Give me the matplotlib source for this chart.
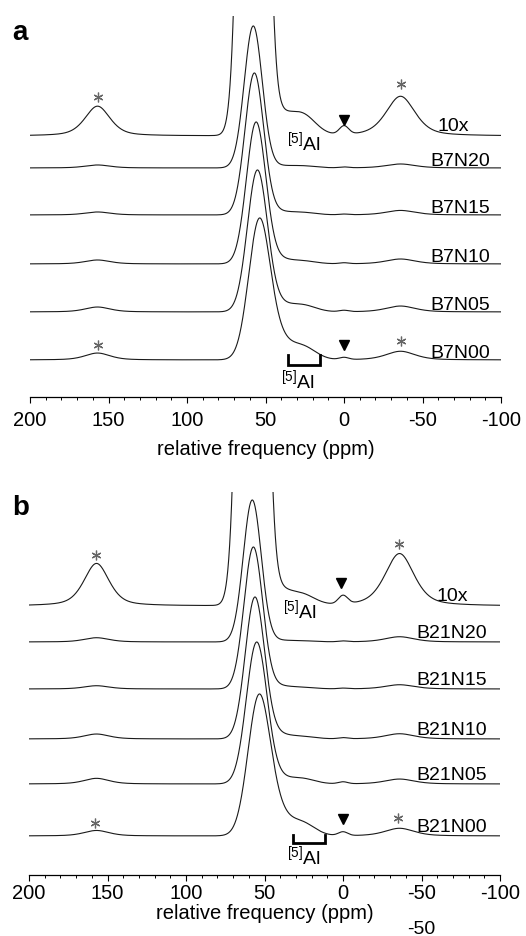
import numpy as np
import matplotlib
import matplotlib.pyplot as plt
from matplotlib.ticker import MultipleLocator

matplotlib.use('agg')

plt.rcParams['font.family'] = ['Liberation Sans', 'DejaVu Sans']
plt.rcParams['mathtext.fontset'] = 'custom'
plt.rcParams['mathtext.rm'] = 'Liberation Sans'
plt.rcParams['mathtext.it'] = 'Liberation Sans:italic'
plt.rcParams['axes.unicode_minus'] = False

# --- spectra (intensities relative to the main peak) ---
b7_names = ['B7N20', 'B7N15', 'B7N10', 'B7N05', 'B7N00']
b7_center = [57.8, 57.1, 56.0, 55.2, 54.0]      # ppm, main [4]Al peak
b7_fwhm = [13.5, 14.0, 14.5, 15.0, 16.0]
b7_tail = [0.012, 0.02, 0.03, 0.045, 0.12]     # low-frequency tail (~42 ppm)
b7_al5 = [0.015, 0.018, 0.022, 0.05, 0.10]     # [5]Al (~27 ppm)
b7_al6 = [0.006, 0.005, 0.007, 0.010, 0.016]   # 0 ppm
b7_ssb_l = [0.021, 0.021, 0.028, 0.035, 0.05]  # sideband ~157 ppm
b7_ssb_r = [0.028, 0.032, 0.035, 0.042, 0.063] # sideband ~-36 ppm

b21_names = ['B21N20', 'B21N15', 'B21N10', 'B21N05', 'B21N00']
b21_center = [57.8, 57.1, 56.1, 55.0, 53.6]
b21_fwhm = [13.5, 14.0, 14.5, 15.5, 16.5]
b21_tail = [0.01, 0.02, 0.03, 0.035, 0.13]
b21_al5 = [0.008, 0.012, 0.018, 0.04, 0.10]
b21_al6 = [0.006, 0.005, 0.008, 0.014, 0.028]
b21_ssb_l = [0.03, 0.023, 0.035, 0.04, 0.04]
b21_ssb_r = [0.037, 0.03, 0.037, 0.035, 0.056]

# shared component positions / widths (ppm)
tail_pos, tail_w = 42.0, 16.5
al5_pos, al5_w = 27.0, 20.0
al6_pos, al6_w = 0.0, 7.0
ssb_pos = [157.0, -36.0]
ssb_w = [19.0, 22.0]

ppm = np.linspace(200, -100, 3001)


def gauss(x, c, w):
    return np.exp(-4 * np.log(2) * ((x - c) / w) ** 2)


def pvoigt(x, c, w, eta=0.5):
    return eta / (1 + 4 * ((x - c) / w) ** 2) + (1 - eta) * gauss(x, c, w)


def spectrum(c, w, tail, al5, al6, sl, sr):
    y = (gauss(ppm, c, w) + tail * gauss(ppm, tail_pos, tail_w)
         + al5 * gauss(ppm, al5_pos, al5_w) + al6 * gauss(ppm, al6_pos, al6_w)
         + sl * pvoigt(ppm, ssb_pos[0], ssb_w[0]) + sr * pvoigt(ppm, ssb_pos[1], ssb_w[1]))
    return y / y.max()


def draw_panel(ax, names, cols, offsets, zoom_off, label_x, label_dy, marks, top_h, pad):
    line_kw = dict(color='#1a1a1a', lw=0.8)
    specs = [spectrum(*p) for p in zip(*cols)]
    ax.plot(ppm, zoom_off + 10 * specs[0], **line_kw)
    for name, sp, off in zip(names, specs, offsets):
        ax.plot(ppm, off + sp, **line_kw)
        ax.text(label_x, off + label_dy, name, ha='right', va='baseline', fontsize=14)
    ax.text(-79.6, zoom_off + 0.042, '10x', ha='right', va='baseline', fontsize=14)

    # sideband asterisks and 0 ppm triangles
    for (x, y) in marks['star']:
        ax.plot(x, y, marker=(6, 2, 0), ms=7, mew=0.9, color='#666666', ls='none')
    for (x, y) in marks['tri']:
        ax.plot(x, y, marker='v', ms=7, color='black', ls='none')
    # [5]Al bracket and labels
    x0, x1, yb, yt = marks['bracket']
    ax.plot([x0, x0, x1, x1], [yt, yb, yb, yt], color='black', lw=2, solid_joinstyle='miter')
    for (x, y) in marks['al5']:
        ax.text(x, y, r'$^{\mathrm{[5]}}$Al', ha='left', va='baseline', fontsize=14)

    ax.set_xlim(200, -100)
    ax.set_ylim(0, top_h)
    for s in ['top', 'left', 'right']:
        ax.spines[s].set_visible(False)
    ax.spines['bottom'].set_linewidth(0.9)
    ax.set_yticks([])
    ax.xaxis.set_major_locator(MultipleLocator(50))
    ax.xaxis.set_minor_locator(MultipleLocator(10))
    ax.tick_params(axis='x', which='major', direction='out', length=4.5, width=0.8,
                   labelsize=14.5, pad=pad)
    ax.tick_params(axis='x', which='minor', direction='out', length=2.5, width=0.7)


fig = plt.figure(figsize=(5.26, 9.37), dpi=100)
W, H, unit = 526, 937, 142.0

ax_a = fig.add_axes([30 / W, 1 - 398 / H, 471 / W, 381 / H])
draw_panel(ax_a, b7_names,
           [b7_center, b7_fwhm, b7_tail, b7_al5, b7_al6, b7_ssb_l, b7_ssb_r],
           [1.613, 1.282, 0.937, 0.599, 0.261], 1.838, -93, 0.022,
           dict(star=[(157, 2.113), (-36, 2.204), (157, 0.366), (-36, 0.394)],
                tri=[(0, 1.951), (0, 0.366)],
                bracket=(35.7, 15.3, 0.225, 0.296),
                al5=[(36.5, 1.746), (40.1, 0.07)]),
           381 / unit, 5)
ax_a.set_xlabel('relative frequency (ppm)', fontsize=14.5, labelpad=7)

ax_b = fig.add_axes([29 / W, 1 - 876 / H, 471 / W, 383 / H])
draw_panel(ax_b, b21_names,
           [b21_center, b21_fwhm, b21_tail, b21_al5, b21_al6, b21_ssb_l, b21_ssb_r],
           [1.641, 1.310, 0.958, 0.641, 0.275], 1.894, -91.7, 0.035,
           dict(star=[(157.3, 2.254), (-35.7, 2.331), (158, 0.366), (-35, 0.401)],
                tri=[(1, 2.056), (0, 0.394)],
                bracket=(31.8, 11.5, 0.225, 0.282),
                al5=[(38.2, 1.817), (35.7, 0.085)]),
           383 / unit, 1)
ax_b.set_xlabel('relative frequency (ppm)', fontsize=14.5, labelpad=1)

fig.text(12 / W, 1 - 40 / H, 'a', fontsize=20, fontweight='bold', va='baseline')
fig.text(12 / W, 1 - 515 / H, 'b', fontsize=20, fontweight='bold', va='baseline')
fig.text(421 / W, 1 - 934 / H, '-50', fontsize=14, ha='center', va='baseline')

fig.savefig('out.png', dpi=100)
